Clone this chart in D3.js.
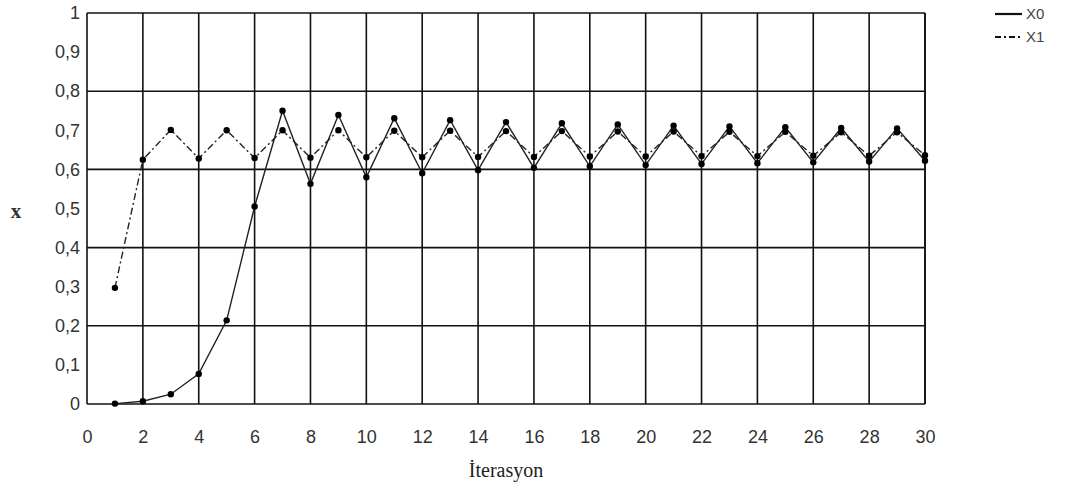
<!DOCTYPE html>
<html><head><meta charset="utf-8">
<script src="https://cdn.jsdelivr.net/npm/d3@7"></script>
<style>body{margin:0;background:#fff}svg{display:block}</style>
</head><body>
<script>
const iterations = d3.range(1, 31);
const x0Values = [0.001, 0.007, 0.025, 0.077, 0.214, 0.505, 0.750, 0.563, 0.739, 0.580, 0.731, 0.590, 0.726, 0.598, 0.721, 0.604, 0.718, 0.608, 0.715, 0.611, 0.712, 0.614, 0.710, 0.616, 0.708, 0.618, 0.706, 0.620, 0.705, 0.622];
const x1Values = [0.297, 0.625, 0.701, 0.628, 0.700, 0.629, 0.700, 0.630, 0.700, 0.631, 0.699, 0.631, 0.699, 0.632, 0.698, 0.632, 0.698, 0.633, 0.697, 0.633, 0.697, 0.634, 0.696, 0.634, 0.696, 0.635, 0.695, 0.635, 0.695, 0.636];
const xTicks = d3.range(0, 31, 2);
const yTicks = d3.range(0, 11).map(d => d / 10);
const yGrid = [0.2, 0.4, 0.6, 0.8];
const seriesNames = ["X0", "X1"];

const W = 1075, H = 492;
const svg = d3.select("body").append("svg").attr("width", W).attr("height", H);
const x = d3.scaleLinear().domain([0, 30]).range([87, 925]);
const y = d3.scaleLinear().domain([0, 1]).range([404, 13]);
const fmt = d => (d === 0 || d === 1) ? String(d) : d3.format(".1f")(d).replace(".", ",");

// grid
const g = svg.append("g");
g.selectAll(".vg").data(xTicks).join("line")
  .attr("x1", d => x(d)).attr("x2", d => x(d)).attr("y1", y(0)).attr("y2", y(1))
  .attr("stroke", "#111").attr("stroke-width", 1.6);
g.selectAll(".hg").data(yGrid.concat([0, 1])).join("line")
  .attr("x1", x(0)).attr("x2", x(30)).attr("y1", d => y(d)).attr("y2", d => y(d))
  .attr("stroke", "#111").attr("stroke-width", 1.6);
g.append("line").attr("x1", x(30)).attr("x2", x(30)).attr("y1", y(0)).attr("y2", y(1))
  .attr("stroke", "#111").attr("stroke-width", 1.6);

// axes
const xAxis = svg.append("g").attr("transform", `translate(0,${y(0)})`)
  .call(d3.axisBottom(x).tickValues(xTicks).tickSize(0).tickPadding(26).tickFormat(d3.format("d")));
xAxis.select(".domain").remove();
xAxis.selectAll("text").attr("font-family", "Liberation Sans, Arial, sans-serif").attr("font-size", 18).attr("fill", "#333");

const yAxis = svg.append("g").attr("transform", `translate(${x(0)},0)`)
  .call(d3.axisLeft(y).tickValues(yTicks).tickSize(0).tickPadding(7).tickFormat(fmt));
yAxis.select(".domain").remove();
yAxis.selectAll("text").attr("font-family", "Liberation Sans, Arial, sans-serif").attr("font-size", 18).attr("fill", "#333");

svg.append("text").attr("x", 16).attr("y", 218).attr("text-anchor", "middle")
  .attr("font-family", "Liberation Serif, Times New Roman, serif").attr("font-size", 21).attr("font-weight", "bold").attr("fill", "#333").text("x");
svg.append("text").attr("x", x(15)).attr("y", 477).attr("text-anchor", "middle")
  .attr("font-family", "Liberation Serif, Times New Roman, serif").attr("font-size", 20).attr("fill", "#222").text("İterasyon");

// series
const line = d3.line().x((d, i) => x(iterations[i])).y(d => y(d));
const styles = [{dash: null}, {dash: "7,3,2,3"}];
[x0Values, x1Values].forEach((vals, k) => {
  svg.append("path").datum(vals).attr("d", line).attr("fill", "none")
    .attr("stroke", "#222").attr("stroke-width", 1.4)
    .attr("stroke-dasharray", styles[k].dash);
  svg.append("g").selectAll("circle").data(vals).join("circle")
    .attr("cx", (d, i) => x(iterations[i])).attr("cy", d => y(d)).attr("r", 3.2).attr("fill", "#000");
});

// legend
const lg = svg.append("g");
seriesNames.forEach((name, k) => {
  const ly = 14 + k * 23;
  lg.append("line").attr("x1", 995).attr("x2", 1022).attr("y1", ly).attr("y2", ly)
    .attr("stroke", "#111").attr("stroke-width", 2.2).attr("stroke-dasharray", styles[k].dash ? "6,3,2,3" : null);
  lg.append("text").attr("x", 1026).attr("y", ly + 5).attr("font-family", "Liberation Sans, Arial, sans-serif")
    .attr("font-size", 15).attr("fill", "#444").text(name);
});
</script>
</body></html>
